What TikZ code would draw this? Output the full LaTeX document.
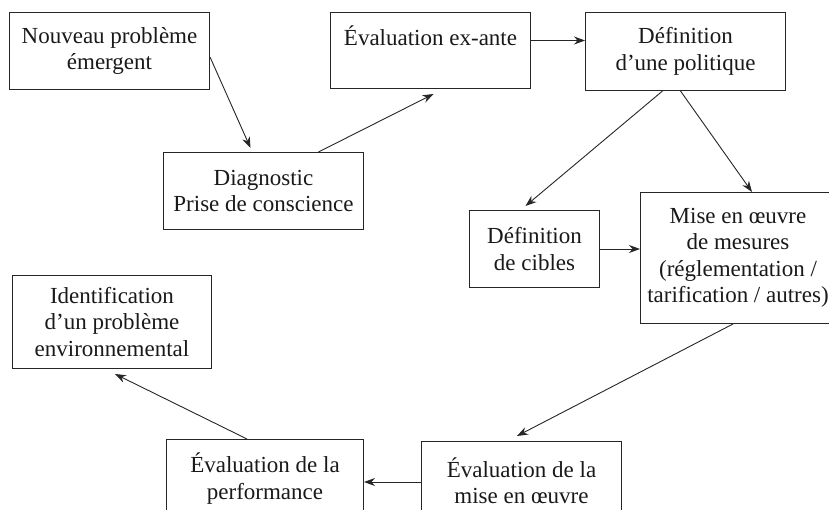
\documentclass[tikz,border=0pt]{standalone}
\usepackage{fontspec}
\setmainfont{Liberation Serif}
\usetikzlibrary{arrows.meta,calc}
\begin{document}
\begin{tikzpicture}[x=1pt,y=1pt,
  box/.style={draw=black!85, line width=1pt, align=center, inner sep=2pt,
    anchor=north west, text=black!90, font=\fontsize{23}{26.5}\selectfont},
  arr/.style={draw=black!85, line width=0.9pt, -{Stealth[length=11pt,width=8pt]}},
]
\useasboundingbox (0,0) rectangle (829,-510);
\clip (0,0) rectangle (829,-510);

\node[box, minimum width=200pt, minimum height=77pt] (nouveau) at (9,-12) {Nouveau problème\\émergent};
\node[box, minimum width=200pt, minimum height=77pt] (diag) at (163,-152) {Diagnostic\\Prise de conscience};
\node[box, minimum width=200pt, minimum height=76pt] (exante) at (330,-12) {Évaluation ex-ante\\[4pt]\mbox{}};
\node[box, minimum width=200pt, minimum height=78pt] (politique) at (585,-12) {Définition\\d’une politique};
\node[box, minimum width=130pt, minimum height=77pt] (cibles) at (469,-210) {Définition\\de cibles};
\node[box, minimum width=195pt, minimum height=131pt] (mise) at (640,-192) {Mise en œuvre\\de mesures\\(réglementation /\\tarification / autres)};
\node[box, minimum width=199pt, minimum height=93pt] (ident) at (12,-275) {Identification\\d’un problème\\environnemental};
\node[box, minimum width=197pt, minimum height=78pt] (perf) at (166,-439) {Évaluation de la\\performance};
\node[box, minimum width=200pt, minimum height=78pt] (evalmise) at (421,-441) {Évaluation de la\\mise en œuvre};

\coordinate (ea) at ([yshift=10pt]exante.east);
\coordinate (em) at ([yshift=-41pt]evalmise.north west);

\draw[arr] ([yshift=-6pt]nouveau.east) -- ([shift={(-13pt,4pt)}]diag.north);
\draw[arr] ([xshift=55pt]diag.north) -- ([shift={(3pt,-5pt)}]exante.south);
\draw[arr] (ea) -- (ea -| politique.west);
\draw[arr] ([xshift=-23pt]politique.south) -- ([shift={(-9pt,4pt)}]cibles.north);
\draw[arr] ([xshift=-5pt]politique.south) -- ([xshift=112pt]mise.north west);
\draw[arr] (cibles.east) -- (cibles.east -| mise.west);
\draw[arr] ([xshift=93pt]mise.south west) -- ([shift={(96pt,5pt)}]evalmise.north west);
\draw[arr] (em) -- (em -| perf.east);
\draw[arr] ([xshift=81pt]perf.north west) -- ([shift={(103pt,-5pt)}]ident.south west);
\end{tikzpicture}
\end{document}
